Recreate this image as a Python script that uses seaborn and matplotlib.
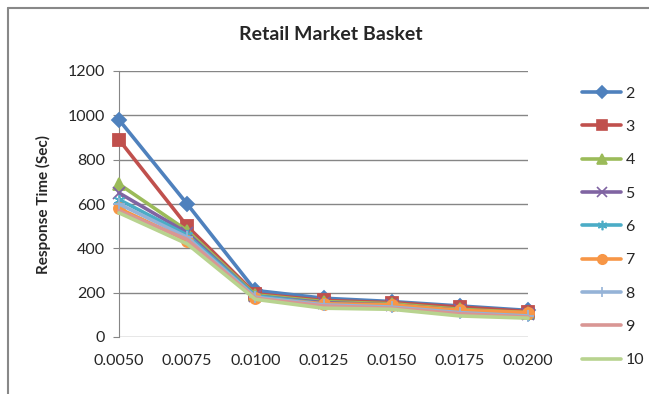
"""
Retail Market Basket: response time vs. support threshold, one line per setting.
"""
import pandas as pd
import seaborn as sns
import matplotlib.pyplot as plt
from matplotlib.lines import Line2D

# data
support = [0.0050, 0.0075, 0.0100, 0.0125, 0.0150, 0.0175, 0.0200]
tick_labels = ["0.0050", "0.0075", "0.0100", "0.0125", "0.0150", "0.0175", "0.0200"]
series_names = ["2", "3", "4", "5", "6", "7", "8", "9", "10"]
s2 = [980, 600, 210, 175, 160, 140, 120]
s3 = [890, 500, 195, 165, 155, 135, 115]
s4 = [690, 480, 190, 160, 150, 125, 110]
s5 = [650, 470, 185, 155, 145, 120, 105]
s6 = [620, 460, 185, 150, 140, 115, 100]
s7 = [580, 435, 175, 150, 145, 120, 110]
s8 = [600, 450, 180, 145, 135, 110, 95]
s9 = [570, 440, 175, 140, 130, 105, 90]
s10 = [560, 420, 170, 130, 125, 95, 85]
values = [s2, s3, s4, s5, s6, s7, s8, s9, s10]

colors = ["#4F81BD", "#C0504D", "#9BBB59", "#8064A2", "#4BACC6",
          "#F79646", "#95B3D7", "#D99694", "#B8D38F"]
markers = ["D", "s", "^", "x", (6, 2, 0), "o", "+", None, None]
msizes = [7, 8, 8, 8, 8, 8, 9, 0, 0]


def main():
    sns.set_style("white")
    plt.rcParams["font.family"] = ["Lato", "DejaVu Sans"]

    df = pd.DataFrame({"support": support})
    for name, vals in zip(series_names, values):
        df[name] = vals
    long = df.melt(id_vars="support", var_name="series", value_name="time")

    fig = plt.figure(figsize=(6.49, 3.94), dpi=100)
    ax = fig.add_axes([119 / 649, 1 - 337 / 394, (528 - 119) / 649, (337 - 71) / 394])

    handles = []
    for i, (name, col, mk, ms) in enumerate(zip(series_names, colors, markers, msizes)):
        sub = long[long["series"] == name]
        kw = dict(marker=mk, markersize=ms, markeredgewidth=1.3,
                  markeredgecolor=col, markerfacecolor=col) if mk else {}
        sns.lineplot(data=sub, x="support", y="time", ax=ax, color=col,
                     linewidth=2.6, zorder=3 + i, clip_on=False, **kw)
        handles.append(Line2D([], [], color=col, linewidth=2.6, marker=mk,
                              markersize=ms * 0.85, markeredgewidth=1.2,
                              markeredgecolor=col, markerfacecolor=col))

    ax.set_xlim(support[0], support[-1])
    ax.set_ylim(0, 1200)
    ax.set_xticks(support)
    ax.set_xticklabels(tick_labels)
    ax.set_yticks(range(0, 1201, 200))
    ax.grid(axis="y", color="#868686", linewidth=1)
    ax.set_axisbelow(True)
    for side in ["top", "right", "bottom"]:
        ax.spines[side].set_visible(False)
    ax.spines["left"].set_color("#868686")
    ax.tick_params(axis="y", length=4, color="#868686", labelsize=11.5, pad=6, left=True)
    ax.tick_params(axis="x", length=0, labelsize=11.5, pad=12)
    ax.set_xlabel("")
    ax.set_ylabel("Response Time (Sec)", fontsize=11, fontweight="bold", labelpad=12)
    fig.text(0.51, 1 - 35 / 394, "Retail Market Basket", ha="center", va="center",
             fontsize=14, fontweight="bold")

    fig.legend(handles, series_names, loc="upper left",
               bbox_to_anchor=(576 / 649, 1 - 80 / 394), frameon=False,
               fontsize=11.5, labelspacing=1.2, handlelength=2.4,
               handletextpad=0.3, borderaxespad=0)

    # chart area border (cropped on right and bottom)
    fig.add_artist(Line2D([7.5 / 649, 7.5 / 649], [0, 1 - 7.5 / 394], color="#888888",
                          linewidth=1.5, transform=fig.transFigure))
    fig.add_artist(Line2D([7.5 / 649, 1], [1 - 7.5 / 394, 1 - 7.5 / 394], color="#888888",
                          linewidth=1.5, transform=fig.transFigure))

    fig.savefig("out.png", dpi=100)
    plt.close(fig)


if __name__ == "__main__":
    main()
